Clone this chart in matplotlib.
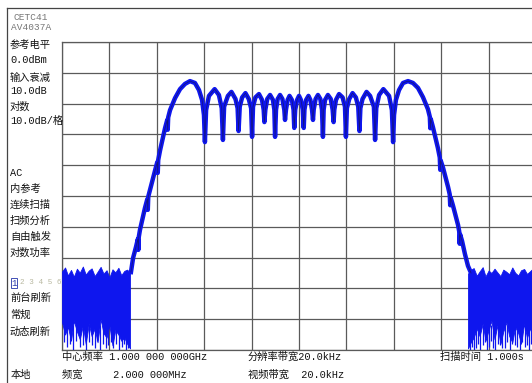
import matplotlib
matplotlib.use("Agg")
import matplotlib.pyplot as plt
from matplotlib.lines import Line2D

# ---------------- data (frequency offset from 1 GHz in kHz, level in dBm) ----------------
trace_f = [-709, -700, -688, -680, -678, -676, -671, -650, -640, -638, -636, -629, -608,
           -598, -596, -594, -586, -565, -556, -554, -552, -544, -523, -502, -481,
           -460, -439, -422, -409, -401, -397, -392, -380, -356, -338, -326, -321, -316,
           -300, -285, -268, -259, -255, -250, -240, -226, -212, -202, -198, -194, -184,
           -169, -156, -149, -146, -142, -134, -122, -110, -104, -101, -97, -90, -80,
           -70, -62, -59, -55, -48, -40, -30, -23, -20, -16, -8, 0, 8, 16, 20, 23, 30,
           40, 48, 55, 59, 62, 70, 80, 90, 97, 101, 104, 110, 122, 134, 142, 146, 149,
           156, 169, 184, 194, 198, 202, 212, 226, 240, 250, 255, 259, 268, 285, 300,
           316, 321, 326, 338, 356, 380, 392, 397, 401, 409, 422, 439, 460, 481, 502,
           523, 544, 552, 554, 556, 565, 586, 594, 596, 598, 608, 629, 636, 638, 640,
           650, 671, 676, 678, 680, 688, 700, 713, 726]
trace_db = [-74.7, -70.1, -66.6, -64.0, -67.5, -63.3, -61.0, -53.9, -51.0, -54.5, -50.2,
            -48.1, -41.9, -39.0, -42.5, -38.3, -35.1, -27.9, -25.3, -28.5, -24.5, -22.1,
            -18.2, -15.3, -13.6, -12.7, -13.3, -15.6, -18.8, -23.7, -32.5, -22.1, -17.5,
            -15.3, -17.2, -21.5, -31.8, -21.0, -17.5, -16.2, -18.5, -21.5, -28.9, -21.0,
            -18.0, -16.6, -18.5, -21.5, -30.8, -21.0, -18.0, -16.9, -18.8, -22.0, -26.0,
            -22.0, -18.5, -17.2, -18.8, -22.0, -30.8, -22.0, -18.5, -17.2, -18.5, -22.0,
            -25.3, -22.0, -18.8, -17.5, -18.8, -22.0, -27.9, -22.0, -18.8, -17.5, -18.8,
            -22.0, -27.9, -22.0, -18.8, -17.5, -18.8, -22.0, -25.3, -22.0, -18.5, -17.2,
            -18.5, -22.0, -30.8, -22.0, -18.8, -17.2, -18.5, -22.0, -26.0, -22.0, -18.8,
            -16.9, -18.0, -21.0, -30.8, -21.5, -18.5, -16.6, -18.0, -21.0, -28.9, -21.5,
            -18.5, -16.2, -17.5, -21.0, -31.8, -21.5, -17.2, -15.3, -17.5, -22.1, -32.5,
            -23.7, -18.8, -15.6, -13.3, -12.7, -13.3, -14.9, -17.9, -21.8, -24.3, -28.0,
            -25.0, -27.6, -34.4, -37.5, -41.5, -38.5, -40.9, -47.1, -49.5, -53.0, -50.5,
            -53.2, -59.4, -61.5, -65.5, -62.5, -64.6, -68.8, -72.7, -75.0]

noise_left_f = [-1000, -987, -975, -962, -950, -937, -925, -912, -900, -887, -875, -862,
                -850, -837, -825, -812, -800, -787, -775, -762, -750, -737, -725, -713]
noise_left_top = [-74.5, -73.2, -75.8, -74.0, -76.2, -73.6, -74.9, -72.9, -75.5, -74.2,
                  -73.5, -76.0, -74.6, -73.0, -75.2, -74.1, -76.4, -73.8, -74.8, -73.3,
                  -75.7, -74.3, -73.9, -75.0]
noise_left_bot = [-91.0, -95.0, -92.5, -97.0, -90.5, -94.0, -96.5, -92.0, -98.0, -91.5,
                  -95.5, -93.0, -97.5, -90.0, -94.5, -96.0, -92.0, -98.5, -93.5, -95.0,
                  -97.0, -96.0, -98.0, -99.5]
noise_right_f = [713, 725, 737, 750, 762, 775, 787, 800, 812, 825, 837, 850, 862, 875,
                 887, 900, 912, 925, 937, 950, 962, 975, 987, 1000]
noise_right_top = [-75.2, -74.0, -73.4, -75.9, -74.5, -73.1, -76.1, -74.2, -75.0, -73.6,
                   -74.8, -76.0, -73.9, -74.6, -75.4, -73.2, -74.9, -75.8, -74.1, -73.7,
                   -75.3, -74.4, -73.5, -74.9]
noise_right_bot = [-99.5, -97.5, -96.0, -93.0, -95.5, -91.5, -97.0, -93.5, -90.5, -96.5,
                   -92.0, -98.0, -94.0, -91.0, -95.5, -97.5, -92.5, -94.5, -98.0, -91.5,
                   -96.0, -93.0, -95.0, -92.0]
spike_f = [-992, -979, -968, -954, -941, -924, -912, -899, -886, -873, -860, -852, -838,
           -827, -815, -806, -794, -785, -772, -760, -748, -739, -730, -721,
           722, 731, 740, 748, 756, 764, 777, 785, 793, 802, 810, 819, 827, 838, 848, 858,
           869, 879, 890, 900, 911, 921, 932, 943, 953, 962, 970, 980, 990]
spike_db = [-97.5, -99.0, -98.0, -100, -97.0, -99.0, -98.5, -100, -97.5, -98.5, -99.5,
            -97.0, -100, -98.0, -99.5, -98.5, -97.5, -99.5, -98.0, -100, -99.0, -98.0,
            -100, -99.5,
            -100, -99.0, -100, -99.5, -98.0, -100, -98.5, -97.5, -100, -99.0, -97.0,
            -99.5, -100, -98.0, -98.5, -99.5, -99.5, -97.5, -100, -98.0, -98.5, -99.0,
            -100, -97.5, -99.0, -98.5, -100, -98.0, -99.5]

left_labels = [("参考电平", 45), ("0.0dBm", 60), ("输入衰减", 78), ("10.0dB", 91),
               ("对数", 107), ("10.0dB/格", 121), ("AC", 173), ("内参考", 189),
               ("连续扫描", 205), ("扫频分析", 221), ("自由触发", 237), ("对数功率", 253),
               ("前台刷新", 298), ("常规", 315), ("动态刷新", 332)]
bottom_labels = [("中心频率 1.000 000 000GHz", 62, 357), ("频宽     2.000 000MHz", 62, 375),
                 ("分辨率带宽20.0kHz", 248, 357), ("视频带宽  20.0kHz", 248, 375),
                 ("扫描时间 1.000s", 440, 357), ("本地", 11, 375)]

# ---------------- figure ----------------
W, H = 532, 383
fig = plt.figure(figsize=(W / 100, H / 100), dpi=100)
fig.patch.set_facecolor("white")

def fx(x):
    return x / W

def fy(y):
    return 1 - y / H

FAM = ["Liberation Mono", "Noto Sans CJK SC"]

ax = fig.add_axes([fx(62), fy(350), 474 / W, 308 / H])
ax.set_xlim(-1000, 1000)
ax.set_ylim(-100, 0)
ax.set_xticks(range(-1000, 1001, 200))
ax.set_yticks(range(-100, 1, 10))
ax.grid(True, color="#5a5a5a", lw=0.9)
ax.tick_params(length=0, labelbottom=False, labelleft=False)
for s in ax.spines.values():
    s.set_color("#5a5a5a")
    s.set_linewidth(0.9)
ax.set_axisbelow(True)

blue = "#0e16ee"
ax.fill_between(noise_left_f, noise_left_bot, noise_left_top, color=blue, lw=0.6, zorder=3)
ax.fill_between(noise_right_f, noise_right_bot, noise_right_top, color=blue, lw=0.6, zorder=3)
ax.vlines(spike_f, [-92] * len(spike_f), spike_db, color=blue, lw=0.9, zorder=3)
ax.plot(trace_f, trace_db, color=blue, lw=3.2, solid_joinstyle="round", zorder=4)
ax.plot(trace_f, trace_db, color="#141478", lw=0.5, zorder=5)

# outer frame
fig.add_artist(Line2D([fx(7), fx(7)], [fy(8), fy(383)], color="#444444", lw=0.9))
fig.add_artist(Line2D([fx(7), fx(532)], [fy(8), fy(8)], color="#444444", lw=0.9))

fs = 7.4
fig.text(fx(13), fy(17), "CETC41", family=FAM, fontsize=6.8, color="#777777", va="center")
fig.text(fx(11), fy(28), "AV4037A", family=FAM, fontsize=6.8, color="#777777", va="center")
for txt, y in left_labels:
    fig.text(fx(10), fy(y), txt, family=FAM, fontsize=fs, color="#111111", va="center")
# trace indicator row
fig.text(fx(11), fy(283), "1", family=FAM, fontsize=6.5, color="#2233aa", va="center",
         bbox=dict(boxstyle="square,pad=0.05", fc="white", ec="#2233aa", lw=0.6))
fig.text(fx(20), fy(283), "2 3 4 5 6", family=FAM, fontsize=5.5, color="#b8b8a0", va="center")
for txt, x, y in bottom_labels:
    fig.text(fx(x), fy(y), txt, family=FAM, fontsize=fs, color="#111111", va="center")

fig.savefig("out.png", dpi=100)
